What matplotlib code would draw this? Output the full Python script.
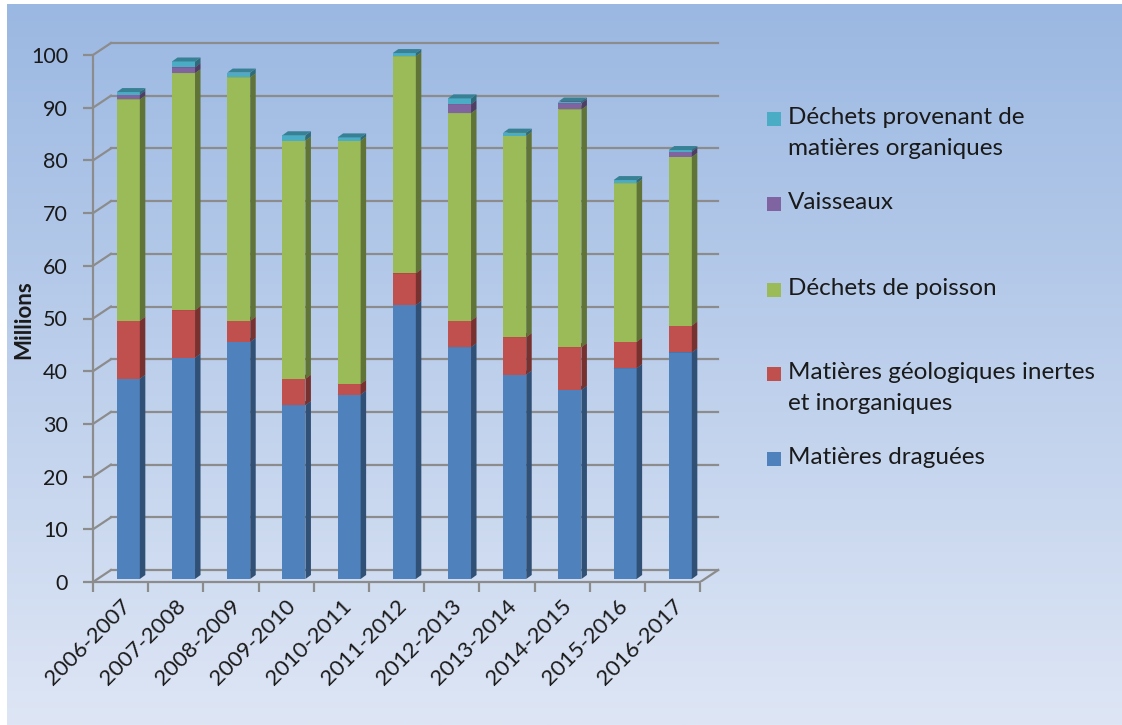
import matplotlib
matplotlib.use("Agg")
import matplotlib.pyplot as plt
import numpy as np
from matplotlib.patches import Polygon, Rectangle
from matplotlib.colors import to_rgb

periods = ["2006-2007", "2007-2008", "2008-2009", "2009-2010", "2010-2011", "2011-2012",
           "2012-2013", "2013-2014", "2014-2015", "2015-2016", "2016-2017"]
draguees = [38.0, 42.0, 45.0, 33.0, 35.0, 52.0, 44.0, 38.8, 35.9, 40.0, 43.0]
geologiques = [11.0, 9.0, 4.0, 5.0, 2.0, 6.0, 5.0, 7.1, 8.1, 5.0, 5.1]
poisson = [42.0, 45.0, 46.2, 45.2, 46.2, 41.2, 39.4, 38.2, 45.1, 30.1, 32.0]
vaisseaux = [0.9, 1.1, 0.0, 0.0, 0.0, 0.0, 1.7, 0.0, 1.2, 0.0, 1.0]
organiques = [0.5, 1.1, 0.9, 1.0, 0.6, 0.6, 1.1, 0.6, 0.3, 0.6, 0.3]

series = [draguees, geologiques, poisson, vaisseaux, organiques]
names = ["Matières draguées", "Matières géologiques inertes\net inorganiques",
         "Déchets de poisson", "Vaisseaux", "Déchets provenant de\nmatières organiques"]
colors = ["#4f81bd", "#c0504d", "#9bbb59", "#8064a2", "#4bacc6"]
yticks = list(range(0, 101, 10))

FONT = "Lato"
W, H = 1122, 725
fig = plt.figure(figsize=(W / 100, H / 100), dpi=100)

# gradient background (white strip left and top)
bg = fig.add_axes([7 / W, 0, 1 - 7 / W, 1 - 4 / H], zorder=-10)
top_c = np.array([155, 184, 226]) / 255
bot_c = np.array([222, 230, 245]) / 255
t = np.linspace(0, 1, 256)[:, None, None]
bg.imshow(top_c + (bot_c - top_c) * t, aspect="auto")
bg.axis("off")

# pseudo-3D geometry (pixels -> data units)
cw, uh = 55.2, 5.27
x0px, y0px = 93, 582
DX, DY = 18 / cw, 12 / uh          # wall depth
bx, by = 0.14, 3 / uh              # bar position inside depth
bw = 23 / cw
sdx, sdy = 5.5 / cw, 4 / uh        # bar side / top depth

ax = fig.add_axes([x0px / W, (H - y0px) / H, 11.5 * cw / W, 104 * uh / H])
ax.set_xlim(-0.5, 11.0)
ax.set_ylim(0, 104)
ax.patch.set_alpha(0)

grid_c = "#8c8c8c"
n = len(periods)
for v in yticks:
    ax.plot([-0.5 + DX, n - 0.5 + DX], [v + DY, v + DY], color=grid_c, lw=1.6, zorder=1)
    ax.plot([-0.5, -0.5 + DX], [v, v + DY], color=grid_c, lw=1.6, zorder=1)
ax.plot([n - 0.5, n - 0.5 + DX], [0, DY], color=grid_c, lw=1.6, zorder=1)


def shade(c, f):
    return tuple(np.array(to_rgb(c)) * f)


x = np.arange(n)
cum = np.zeros(n)
for vals, col in zip(series, colors):
    bars = ax.bar(x + bx, vals, width=bw, bottom=cum + by, color=col, lw=0, zorder=3)
    for r in bars:
        rx, ry, rw, rh = r.get_x(), r.get_y(), r.get_width(), r.get_height()
        if rh <= 0:
            continue
        ax.add_patch(Polygon([(rx + rw, ry), (rx + rw + sdx, ry + sdy),
                              (rx + rw + sdx, ry + rh + sdy), (rx + rw, ry + rh)],
                             closed=True, fc=shade(col, 0.62), lw=0, zorder=3))
        ax.add_patch(Polygon([(rx, ry + rh), (rx + sdx, ry + rh + sdy),
                              (rx + rw + sdx, ry + rh + sdy), (rx + rw, ry + rh)],
                             closed=True, fc=shade(col, 0.75), lw=0, zorder=3))
    cum += np.array(vals)

for s in ["top", "right"]:
    ax.spines[s].set_visible(False)
ax.spines["left"].set_bounds(0, 100)
ax.spines["bottom"].set_bounds(-0.5, n - 0.5)
for s in ["left", "bottom"]:
    ax.spines[s].set_color(grid_c)
    ax.spines[s].set_linewidth(1.6)

ax.set_yticks(yticks)
ax.set_yticklabels([str(v) for v in yticks], fontsize=15.5, family=FONT, color="#1a1a1a")
ax.tick_params(axis="y", length=7, width=1.6, color=grid_c, pad=11)
ax.set_xticks(np.arange(-0.5, n, 1))
ax.set_xticklabels([])
ax.tick_params(axis="x", which="major", length=7, width=1.6, color=grid_c)
ax.set_xticks(x + 0.12, periods, minor=True, rotation=45, ha="right", va="center",
              rotation_mode="anchor", fontsize=16, family=FONT, color="#1a1a1a")
ax.tick_params(axis="x", which="minor", length=0, pad=15)

fig.text(24 / W, 1 - 320 / H, "Millions", rotation=90, ha="center", va="center",
         fontsize=16, fontweight="bold", family=FONT, color="#1a1a1a")

# legend, top to bottom
leg_y = [119, 204, 290, 374, 459]
for yy, name, col in zip(leg_y, names[::-1], colors[::-1]):
    fig.add_artist(Rectangle((767 / W, 1 - (yy + 7) / H), 14 / W, 14 / H,
                             transform=fig.transFigure, fc=col, lw=0))
    fig.text(788 / W, 1 - (yy - 12) / H, name, ha="left", va="top", fontsize=17.5,
             family=FONT, color="#1a1a1a", linespacing=1.6)

fig.savefig("out.png", dpi=100)
